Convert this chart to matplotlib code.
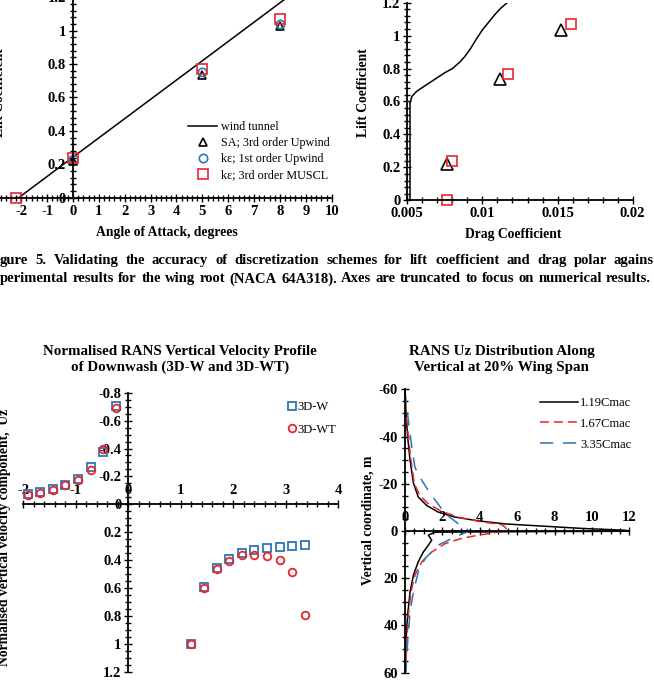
import matplotlib
matplotlib.use("Agg")
import matplotlib.pyplot as plt
from matplotlib.ticker import AutoMinorLocator, FuncFormatter
from matplotlib.lines import Line2D

plt.rcParams['font.family'] = ['Liberation Serif', 'DejaVu Serif']
plt.rcParams['axes.unicode_minus'] = False
plt.rcParams['lines.scale_dashes'] = False

# ---------------- data ----------------
# Fig 5a: lift curve
wt_aoa = [-2.1, 0, 5, 8.2]
wt_cl = [0.0, 0.243, 0.82, 1.19]
sa_aoa = [0, 5, 8]
sa_cl = [0.22, 0.735, 1.03]
ke1_aoa = [0, 5, 8]
ke1_cl = [0.23, 0.75, 1.04]
ke3_aoa = [-2.2, 0, 5, 8]
ke3_cl = [0.0, 0.24, 0.77, 1.07]
aoa_ticks = [-2, -1, 0, 1, 2, 3, 4, 5, 6, 7, 8, 9, 10]
cl_ticks = [0, 0.2, 0.4, 0.6, 0.8, 1.0, 1.2]

# Fig 5b: drag polar
polar_cd = [0.00518, 0.00518, 0.0053, 0.0056, 0.0060, 0.0065, 0.0070, 0.0075, 0.0080,
            0.0085, 0.0088, 0.0092, 0.0096, 0.0100, 0.0104, 0.0108, 0.0112, 0.01165]
polar_cl = [0.0, 0.59, 0.63, 0.66, 0.685, 0.715, 0.745, 0.775, 0.80,
            0.84, 0.87, 0.92, 0.98, 1.035, 1.08, 1.125, 1.165, 1.2]
sa_cd = [0.00766, 0.01117, 0.01521]
sa_cl2 = [0.219, 0.735, 1.034]
ke3_cd = [0.00766, 0.0080, 0.01168, 0.01587]
ke3_cl2 = [0.0, 0.239, 0.767, 1.07]
cd_ticks = [0.005, 0.01, 0.015, 0.02]

# Downwash profile
x_left = [-1.92, -1.68, -1.44, -1.20, -0.96, -0.72, -0.48, -0.24]
x_right = [1.2, 1.44, 1.68, 1.92, 2.16, 2.40, 2.64, 2.88, 3.12, 3.36]
w_left = [-0.072, -0.087, -0.111, -0.14, -0.183, -0.265, -0.378, -0.704]
w_right = [1.0, 0.595, 0.46, 0.39, 0.349, 0.33, 0.316, 0.306, 0.299, 0.292]
wt_left = [-0.067, -0.082, -0.106, -0.137, -0.176, -0.246, -0.393, -0.69]
wt_right = [1.0, 0.6, 0.467, 0.405, 0.364, 0.36, 0.371, 0.40, 0.482, 0.79]
dw_xticks = [-2, -1, 0, 1, 2, 3, 4]
dw_yticks = [-0.8, -0.6, -0.4, -0.2, 0, 0.2, 0.4, 0.6, 0.8, 1.0, 1.2]

# Uz distribution (uz, z)
uz_119 = [0.0, 0.05, 0.14, 0.27, 0.45, 0.71, 1.16, 1.78, 2.67, 3.92, 5.35, 7.5, 9.45, 11.8,
          12.0, 6.0, 1.6, 1.5, 1.25, 1.43, 1.25, 0.98, 0.71, 0.45, 0.27, 0.14, 0.05, 0.02]
z_119 = [-60, -50, -40, -30, -20.3, -14.4, -10.8, -8, -5.9, -4.3, -3.0, -2.0, -1.1, -0.3,
         0.1, 0.3, 0.5, 0.8, 1.8, 3.9, 6, 8.9, 13, 18.7, 25.8, 35.6, 47, 59.6]
uz_167 = [0.0, 0.06, 0.18, 0.32, 0.5, 0.8, 1.25, 1.96, 2.85, 3.92, 5.17, 5.35, 5.45, 5.2,
          4.8, 3.9, 3.0, 2.14, 1.43, 0.9, 0.53, 0.32, 0.18, 0.09, 0.04]
z_167 = [-60, -50, -40, -30, -20, -15, -11.5, -8.3, -5.9, -4.1, -2.7, -1.7, -0.6, 0.2,
         0.7, 1.8, 3.2, 5.35, 8.9, 13, 18.7, 25.8, 35.6, 47, 59.6]
uz_335 = [0.0, 0.05, 0.18, 0.36, 0.53, 0.9, 1.43, 2.14, 2.94, 3.3, 3.4, 3.3, 2.67, 1.78,
          1.07, 0.71, 0.45, 0.27, 0.14, 0.05]
z_335 = [-60, -55, -47, -35.8, -27, -21.4, -15, -7.5, -2.5, -0.8, 0.0, 0.5, 2.5, 6,
         11.7, 17.3, 25.8, 34.3, 47, 59.6]
uz_xticks = [0, 2, 4, 6, 8, 10, 12]
uz_yticks = [-60, -40, -20, 0, 20, 40, 60]

caption1 = "gure 5. Validating the accuracy of discretization schemes for lift coefficient and drag polar agains"
caption2 = "perimental results for the wing root (NACA 64A318). Axes are truncated to focus on numerical results."

# ---------------- figure ----------------
W, H = 654, 687
fig = plt.figure(figsize=(W / 100, H / 100), dpi=100)

BLUE = '#2E75B6'
RED = '#E8262B'
TICK_FS = 10.5
LAB_FS = 9.8
TITLE_FS = 10.8
LEG_FS = 8.7


def add_ax(left, top, right, bottom):
    return fig.add_axes([left / W, 1 - bottom / H, (right - left) / W, (bottom - top) / H])


fmt = FuncFormatter(lambda v, p: '{:g}'.format(round(v, 6)))


def style(ax, minor_x, minor_y):
    ax.xaxis.set_minor_locator(AutoMinorLocator(minor_x))
    ax.yaxis.set_minor_locator(AutoMinorLocator(minor_y))
    ax.tick_params(which='both', direction='inout', width=1.0, labelsize=TICK_FS, pad=2)
    ax.tick_params(which='major', length=6)
    ax.tick_params(which='minor', length=4)
    for lab in ax.get_xticklabels() + ax.get_yticklabels():
        lab.set_fontweight('bold')
    ax.patch.set_visible(False)


# --- top-left: lift curve
ax1 = add_ax(-4.6, -2.7, 331.7, 197.7)
ax1.set_xlim(-3, 10)
ax1.set_ylim(0, 1.2)
for s in ['top', 'right']:
    ax1.spines[s].set_visible(False)
ax1.spines['left'].set_position(('data', 0))
ax1.spines['left'].set_linewidth(1.3)
ax1.spines['bottom'].set_linewidth(1.3)
ax1.set_xticks(aoa_ticks)
ax1.set_yticks(cl_ticks)
ax1.yaxis.set_major_formatter(fmt)
ax1.plot(wt_aoa, wt_cl, color='black', lw=1.1)
ax1.plot(sa_aoa, sa_cl, ls='none', marker='^', ms=6, mfc='none', mec='black', mew=1.2, clip_on=False)
ax1.plot(ke1_aoa, ke1_cl, ls='none', marker='o', ms=6, mfc='none', mec=BLUE, mew=1.2, clip_on=False)
ax1.plot(ke3_aoa, ke3_cl, ls='none', marker='s', ms=6.5, mfc='none', mec=RED, mew=1.2, clip_on=False)
style(ax1, 5, 5)
ax1.set_xlabel('Angle of Attack, degrees', fontsize=LAB_FS, fontweight='bold')
ax1.xaxis.set_label_coords((166.7 + 4.6) / 336.3, 1 - (226 + 2.7) / 200.4)
fig.text(0 / W, 1 - 93 / H, 'Lift Coefficient', rotation=90, ha='center', va='center',
         fontsize=LAB_FS, fontweight='bold')
h = [Line2D([], [], color='black', lw=1.1),
     Line2D([], [], ls='none', marker='^', ms=6, mfc='none', mec='black', mew=1.2),
     Line2D([], [], ls='none', marker='o', ms=6, mfc='none', mec=BLUE, mew=1.2),
     Line2D([], [], ls='none', marker='s', ms=6.5, mfc='none', mec=RED, mew=1.2)]
ax1.legend(h, ['wind tunnel', 'SA; 3rd order Upwind', 'kε; 1st order Upwind', 'kε; 3rd order MUSCL'],
           loc='upper left', bbox_to_anchor=(188 / W, 1 - 121 / H), bbox_transform=fig.transFigure,
           frameon=False, borderpad=0, borderaxespad=0, handlelength=2.4, handletextpad=0.3,
           labelspacing=0.33, prop={'size': LEG_FS, 'weight': 'normal'})

# --- top-right: drag polar
ax2 = add_ax(407.3, 2.7, 632.7, 200.3)
ax2.set_xlim(0.005, 0.02)
ax2.set_ylim(0, 1.2)
for s in ['top', 'right']:
    ax2.spines[s].set_visible(False)
ax2.spines['left'].set_linewidth(1.3)
ax2.spines['bottom'].set_linewidth(1.3)
ax2.set_xticks(cd_ticks)
ax2.set_yticks(cl_ticks)
ax2.xaxis.set_major_formatter(fmt)
ax2.yaxis.set_major_formatter(fmt)
ax2.plot(polar_cd, polar_cl, color='black', lw=1.1)
ax2.plot(sa_cd, sa_cl2, ls='none', marker='^', ms=8, mfc='none', mec='black', mew=1.2, clip_on=False)
ax2.plot(ke3_cd, ke3_cl2, ls='none', marker='s', ms=7.5, mfc='none', mec=RED, mew=1.2, clip_on=False)
style(ax2, 5, 5)
ax2.set_xlabel('Drag Coefficient', fontsize=LAB_FS, fontweight='bold')
ax2.xaxis.set_label_coords((513 - 407.3) / 225.4, 1 - (228 - 2.7) / 197.6)
ax2.set_ylabel('Lift Coefficient', fontsize=LAB_FS, fontweight='bold')
ax2.yaxis.set_label_coords((370 - 407.3) / 225.4, 1 - (93 - 2.7) / 197.6)

# --- caption (justified)
fig.canvas.draw()
renderer = fig.canvas.get_renderer()


def justify(line, y, x0, x1, fs):
    words = line.split(' ')
    texts = [fig.text(0, 1 - y / H, w_, fontsize=fs, fontweight='bold', va='center', ha='left')
             for w_ in words]
    widths = [t.get_window_extent(renderer).width for t in texts]
    gap = (x1 - x0 - sum(widths)) / (len(words) - 1)
    x = x0
    for t, wd in zip(texts, widths):
        t.set_x(x / W)
        x += wd + gap


justify(caption1, 260, 0, 654, 10.5)
justify(caption2, 279, 0, 651, 10.5)

# --- bottom-left: downwash profile
ax3 = add_ax(23.3, 392.7, 338.3, 671.7)
ax3.set_xlim(-2, 4)
ax3.set_ylim(1.2, -0.8)
for s in ['bottom', 'right']:
    ax3.spines[s].set_visible(False)
ax3.spines['left'].set_position(('data', 0))
ax3.spines['top'].set_position(('data', 0))
ax3.spines['left'].set_linewidth(1.3)
ax3.spines['top'].set_linewidth(1.3)
ax3.xaxis.tick_top()
ax3.set_xticks(dw_xticks)
ax3.set_yticks(dw_yticks)
ax3.yaxis.set_major_formatter(fmt)
ax3.plot(x_left + x_right, w_left + w_right, ls='none', marker='s', ms=5.5, mfc='none', mec=BLUE,
         mew=1.3, label='3D-W', clip_on=False)
ax3.plot(x_left + x_right, wt_left + wt_right, ls='none', marker='o', ms=5.5, mfc='none', mec=RED,
         mew=1.3, label='3D-WT', clip_on=False)
style(ax3, 5, 4)
ax3.legend(loc='upper left', bbox_to_anchor=(288 / W, 1 - 401 / H), bbox_transform=fig.transFigure,
           frameon=False, borderpad=0, borderaxespad=0, handlelength=0.6, handletextpad=0.15,
           labelspacing=0.85, prop={'size': 9, 'weight': 'normal'})
fig.text(180 / W, 1 - 351 / H, 'Normalised RANS Vertical Velocity Profile', ha='center', va='center',
         fontsize=TITLE_FS, fontweight='bold')
fig.text(180 / W, 1 - 367.5 / H, 'of Downwash (3D-W and 3D-WT)', ha='center', va='center',
         fontsize=TITLE_FS, fontweight='bold')
fig.text(5 / W, 1 - 537 / H, 'Normalised vertical velocity component,  Uz', rotation=90, ha='center',
         va='center', fontsize=LAB_FS, fontweight='bold')

# --- bottom-right: Uz distribution
ax4 = add_ax(405, 389.3, 629.3, 672.7)
ax4.set_xlim(0, 12)
ax4.set_ylim(60, -60)
for s in ['bottom', 'right']:
    ax4.spines[s].set_visible(False)
ax4.spines['top'].set_position(('data', 0))
ax4.spines['left'].set_linewidth(1.3)
ax4.spines['top'].set_linewidth(1.3)
ax4.xaxis.tick_top()
ax4.set_xticks(uz_xticks)
ax4.set_yticks(uz_yticks)
ax4.plot(uz_119, z_119, color='black', lw=1.1, label='1.19Cmac', clip_on=False)
ax4.plot(uz_167, z_167, color=RED, lw=1.1, dashes=(6.5, 3.5), label='1.67Cmac', clip_on=False)
ax4.plot(uz_335, z_335, color=BLUE, lw=1.1, dashes=(9.5, 7), label='3.35Cmac', clip_on=False)
style(ax4, 4, 4)
ax4.legend(loc='upper left', bbox_to_anchor=(540 / W, 1 - 397 / H), bbox_transform=fig.transFigure,
           frameon=False, borderpad=0, borderaxespad=0, handlelength=3.0, handletextpad=0.2,
           labelspacing=0.7, prop={'size': 9, 'weight': 'normal'})
fig.text(501.7 / W, 1 - 351 / H, 'RANS Uz Distribution Along', ha='center', va='center',
         fontsize=TITLE_FS, fontweight='bold')
fig.text(501.7 / W, 1 - 367.5 / H, 'Vertical at 20% Wing Span', ha='center', va='center',
         fontsize=TITLE_FS, fontweight='bold')
fig.text(368 / W, 1 - 520 / H, 'Vertical coordinate, m', rotation=90, ha='center', va='center',
         fontsize=LAB_FS, fontweight='bold')

fig.savefig('out.png', dpi=100)
